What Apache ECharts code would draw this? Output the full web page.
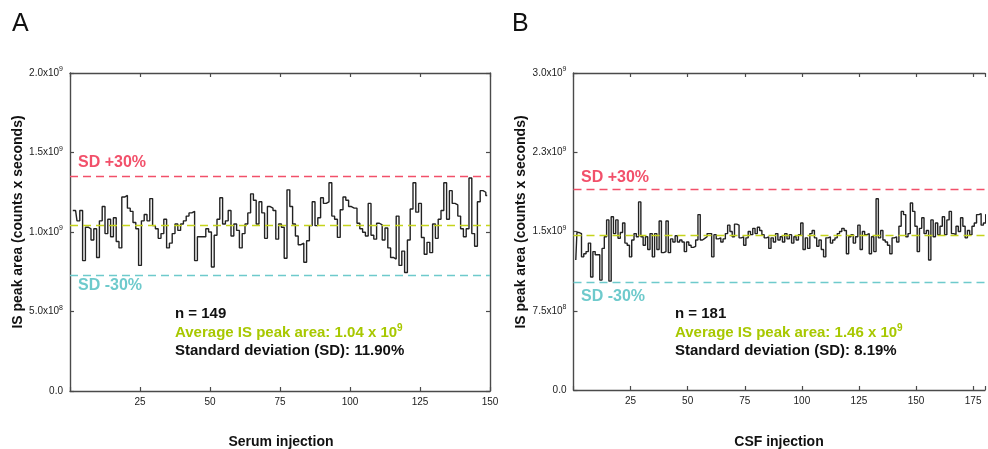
<!DOCTYPE html>
<html>
<head>
<meta charset="utf-8">
<script src="https://cdn.jsdelivr.net/npm/echarts@6/dist/echarts.min.js"></script>
<style>
  html, body { margin: 0; padding: 0; background: #fff; }
  #chart { width: 988px; height: 449px; }
</style>
</head>
<body>
<div id="chart"></div>
<script>
// IS peak area per injection, in units of 10^9 counts x seconds
const serumIS = [
  1.135, 1.135, 1.07, 1.135, 0.82, 1.03, 1.02, 0.95, 1.02, 0.84,
  1.07, 1.16, 0.99, 1.08, 0.97, 1.09, 0.94, 0.90, 1.22, 1.23,
  1.15, 1.13, 1.06, 1.02, 0.79, 1.07, 1.11, 1.07, 1.21, 1.04,
  1.02, 0.96, 0.99, 1.08, 0.90, 0.93, 0.99, 1.05, 1.01, 1.05,
  1.07, 1.10, 1.12, 1.13, 0.82, 0.97, 0.97, 0.97, 1.02, 1.00,
  0.78, 0.98, 1.08, 1.215, 1.05, 1.07, 1.135, 0.975, 1.05, 1.01,
  0.90, 0.99, 1.05, 1.12, 1.24, 1.20, 1.05, 1.19, 1.12, 0.96,
  1.16, 1.15, 1.135, 0.955, 1.05, 1.03, 0.835, 1.265, 1.16, 1.05,
  0.975, 0.92, 0.93, 0.81, 0.945, 1.04, 1.19, 1.04, 1.09, 1.215,
  1.18, 1.19, 1.31, 1.10, 1.08, 0.966, 1.14, 1.22, 1.20, 1.16,
  1.15, 1.15, 1.055, 1.02, 0.998, 0.975, 1.18, 0.98, 0.955, 1.055,
  1.045, 0.95, 1.025, 0.90, 0.84, 0.83, 1.10, 0.79, 0.88, 0.745,
  0.95, 1.145, 1.31, 1.125, 1.18, 0.965, 0.86, 0.935, 0.87, 1.05,
  0.96, 1.08, 1.135, 1.31, 1.08, 1.26, 1.18, 1.17, 1.10, 1.02,
  0.97, 1.02, 1.34, 0.99, 0.91, 1.19, 1.26, 1.25, 1.23
];

const csfIS = [
  1.23, 1.49, 1.48, 1.26, 1.29, 1.31, 1.39, 1.07, 1.31, 1.28,
  1.28, 1.04, 1.34, 1.45, 1.61, 1.03, 1.64, 1.48, 1.61, 1.435,
  1.49, 1.58, 1.39, 1.37, 1.26, 1.42, 1.48, 1.45, 1.78, 1.45,
  1.37, 1.45, 1.33, 1.48, 1.26, 1.48, 1.33, 1.60, 1.30, 1.31,
  1.60, 1.30, 1.43, 1.40, 1.46, 1.40, 1.42, 1.40, 1.31, 1.40,
  1.37, 1.35, 1.36, 1.42, 1.66, 1.42, 1.435, 1.45, 1.48, 1.48,
  1.26, 1.47, 1.43, 1.44, 1.40, 1.43, 1.48, 1.56, 1.50, 1.45,
  1.57, 1.56, 1.44, 1.45, 1.37, 1.44, 1.50, 1.47, 1.53, 1.48,
  1.54, 1.51, 1.47, 1.44, 1.45, 1.34, 1.44, 1.40, 1.48, 1.42,
  1.45, 1.40, 1.48, 1.43, 1.47, 1.39, 1.45, 1.42, 1.47, 1.58,
  1.33, 1.44, 1.34, 1.48, 1.51, 1.44, 1.36, 1.42, 1.33, 1.26,
  1.44, 1.45, 1.39, 1.42, 1.44, 1.48, 1.50, 1.53, 1.51, 1.29,
  1.45, 1.47, 1.39, 1.45, 1.56, 1.33, 1.50, 1.47, 1.48, 1.29,
  1.45, 1.31, 1.81, 1.44, 1.51, 1.42, 1.40, 1.37, 1.29, 1.44,
  1.45, 1.40, 1.55, 1.69, 1.66, 1.45, 1.48, 1.77, 1.69, 1.55,
  1.31, 1.53, 1.63, 1.48, 1.51, 1.23, 1.61, 1.45, 1.58, 1.47,
  1.55, 1.64, 1.47, 1.61, 1.69, 1.48, 1.47, 1.55, 1.50, 1.63,
  1.55, 1.44, 1.51, 1.47, 1.55, 1.58, 1.66, 1.67, 1.56, 1.58, 1.66
];

const avgSerum = 1.04;
const avgCsf = 1.46;

// y tick labels: mantissa part | exponent
const yLabelsSerum = ['0.0', '5.0x10|8', '1.0x10|9', '1.5x10|9', '2.0x10|9'];
const yLabelsCsf = ['0.0', '7.5x10|8', '1.5x10|9', '2.3x10|9', '3.0x10|9'];
const xTicksSerum = [25, 50, 75, 100, 125, 150];
const xTicksCsf = [25, 50, 75, 100, 125, 150, 175];

const FONT = "'Liberation Sans', Arial, Helvetica, sans-serif";
const RED = '#f2506a';
const CYAN = '#6ecacc';
const GREEN_LINE = '#c5d41c';
const GREEN_TEXT = '#a8c800';
const FRAME = '#4a4a4a';

function yFormatter(labels, step) {
  return function (v) {
    const s = labels[Math.round(v / step)];
    if (!s) return '';
    const parts = s.split('|');
    if (parts.length === 1) return '{m|' + parts[0] + '}';
    return '{m|' + parts[0] + '}{e|' + parts[1] + '}';
  };
}

function xFormatter(ticks) {
  return function (v) {
    return ticks.indexOf(v) >= 0 ? String(v) : '';
  };
}

function xAxisCfg(grid, max, ticks, top) {
  return {
    type: 'value',
    gridIndex: grid,
    position: top ? 'top' : 'bottom',
    min: 0,
    max: max,
    interval: 25,
    axisLine: { show: true, onZero: false, lineStyle: { color: FRAME, width: 1.4 } },
    axisTick: { show: true, inside: true, length: 4, lineStyle: { color: FRAME, width: 1.2 } },
    axisLabel: top ? { show: false } : {
      show: true, margin: 6, color: '#222', fontSize: 10, fontFamily: FONT,
      formatter: xFormatter(ticks)
    },
    splitLine: { show: false }
  };
}

function yAxisCfg(grid, max, step, labels, right, hideLine) {
  return {
    type: 'value',
    gridIndex: grid,
    position: right ? 'right' : 'left',
    min: 0,
    max: max,
    interval: step,
    axisLine: { show: !hideLine, onZero: false, lineStyle: { color: FRAME, width: 1.4 } },
    axisTick: { show: !hideLine, inside: true, length: 4, lineStyle: { color: FRAME, width: 1.2 } },
    axisLabel: right ? { show: false } : {
      show: true, margin: 7, color: '#222', fontFamily: FONT,
      formatter: yFormatter(labels, step),
      rich: {
        m: { fontSize: 10, fontFamily: FONT, color: '#222', lineHeight: 14 },
        e: { fontSize: 7, fontFamily: FONT, color: '#222', lineHeight: 8, verticalAlign: 'top' }
      }
    },
    splitLine: { show: false }
  };
}

function refLines(avg) {
  return {
    silent: true,
    symbol: 'none',
    label: { show: false },
    data: [
      { yAxis: avg * 1.3, lineStyle: { color: RED, type: [8, 5], width: 1.4 } },
      { yAxis: avg, lineStyle: { color: GREEN_LINE, type: [8, 5], width: 1.4 } },
      { yAxis: avg * 0.7, lineStyle: { color: CYAN, type: [8, 5], width: 1.4 } }
    ]
  };
}

function txt(x, y, text, color, size, weight) {
  return {
    type: 'text',
    x: x,
    y: y,
    silent: true,
    style: {
      text: text,
      fill: color,
      fontSize: size,
      fontWeight: weight,
      fontFamily: FONT,
      align: 'left',
      verticalAlign: 'middle'
    }
  };
}

function annot(x, n, avg, sd) {
  return [
    txt(x, 314, 'n = ' + n, '#111', 15, 'bold'),
    {
      type: 'text', x: x, y: 332.5, silent: true,
      style: {
        text: '{a|Average IS peak area: ' + avg.toFixed(2) + ' x 10}{s|9}',
        align: 'left', verticalAlign: 'middle',
        rich: {
          a: { fontSize: 15, fontWeight: 'bold', fontFamily: FONT, fill: GREEN_TEXT, color: GREEN_TEXT, lineHeight: 18 },
          s: { fontSize: 10, fontWeight: 'bold', fontFamily: FONT, fill: GREEN_TEXT, color: GREEN_TEXT, lineHeight: 10, verticalAlign: 'top' }
        }
      }
    },
    txt(x, 350.5, 'Standard deviation (SD): ' + sd, '#111', 15, 'bold')
  ];
}

function centered(x, y, text, size, rotate) {
  return {
    type: 'text', x: x, y: y, rotation: rotate ? Math.PI / 2 : 0, silent: true,
    style: {
      text: text, fill: '#111', fontSize: size, fontWeight: 'bold', fontFamily: FONT,
      align: 'center', verticalAlign: 'middle'
    }
  };
}

const chart = echarts.init(document.getElementById('chart'), null, { renderer: 'canvas' });

const option = {
  animation: false,
  backgroundColor: '#fff',
  grid: [
    { left: 70, top: 73, width: 420, height: 318 },
    { left: 573.5, top: 73, right: 0, height: 317 }
  ],
  xAxis: [
    xAxisCfg(0, 150, xTicksSerum, false),
    xAxisCfg(0, 150, xTicksSerum, true),
    xAxisCfg(1, 180.2, xTicksCsf, false),
    xAxisCfg(1, 180.2, xTicksCsf, true)
  ],
  yAxis: [
    yAxisCfg(0, 2.0, 0.5, yLabelsSerum, false, false),
    yAxisCfg(0, 2.0, 0.5, yLabelsSerum, true, false),
    yAxisCfg(1, 3.0, 0.75, yLabelsCsf, false, false),
    yAxisCfg(1, 3.0, 0.75, yLabelsCsf, true, true)
  ],
  series: [
    {
      name: 'Serum',
      type: 'line',
      xAxisIndex: 0,
      yAxisIndex: 0,
      step: 'middle',
      showSymbol: false,
      symbol: 'none',
      lineStyle: { color: '#222', width: 1.4 },
      data: serumIS.map((v, i) => [i + 1, v]),
      markLine: refLines(avgSerum)
    },
    {
      name: 'CSF',
      type: 'line',
      xAxisIndex: 2,
      yAxisIndex: 2,
      step: 'middle',
      showSymbol: false,
      symbol: 'none',
      lineStyle: { color: '#222', width: 1.4 },
      data: csfIS.map((v, i) => [i + 1, v]),
      markLine: refLines(avgCsf)
    }
  ],
  graphic: [
    txt(12, 24, 'A', '#111', 25, 'normal'),
    txt(512, 24, 'B', '#111', 25, 'normal'),
    centered(18, 222, 'IS peak area (counts x seconds)', 14, true),
    centered(521, 222, 'IS peak area (counts x seconds)', 14, true),
    centered(281, 442, 'Serum injection', 14, false),
    centered(779, 442, 'CSF injection', 14, false),
    txt(78, 163, 'SD +30%', RED, 16, 'bold'),
    txt(78, 286, 'SD -30%', CYAN, 16, 'bold'),
    txt(581, 178, 'SD +30%', RED, 16, 'bold'),
    txt(581, 297, 'SD -30%', CYAN, 16, 'bold')
  ]
    .concat(annot(175, 149, avgSerum, '11.90%'))
    .concat(annot(675, 181, avgCsf, '8.19%'))
};

chart.setOption(option);
</script>
</body>
</html>
